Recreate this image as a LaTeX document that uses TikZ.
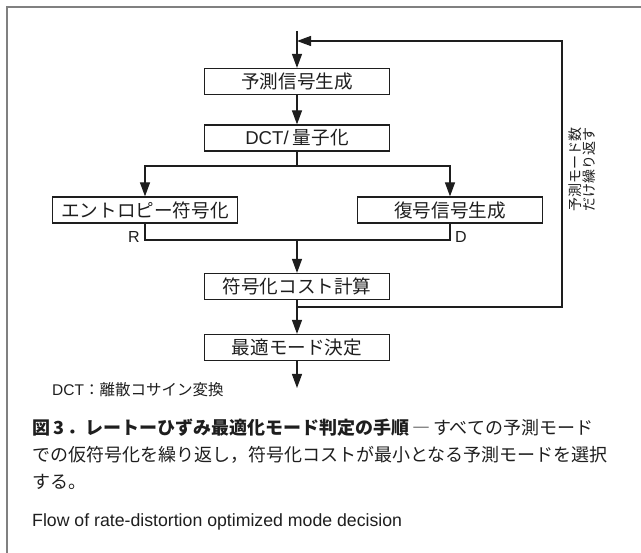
\documentclass[tikz,border=0pt]{standalone}
\usepackage{fontspec}
\setmainfont{Noto Sans CJK JP}
\newfontfamily\latin{Liberation Sans}
\usetikzlibrary{arrows.meta}
\definecolor{framegray}{RGB}{128,128,128}
\definecolor{ink}{RGB}{30,30,30}
\begin{document}
\begin{tikzpicture}[x=1pt,y=-1pt,
  box/.style={draw=ink,line width=1.2pt,minimum width=185pt,minimum height=26pt,inner sep=0pt,text=ink,font=\fontsize{18.6}{18.6}\selectfont},
  conn/.style={draw=ink,line width=1.2pt},
  arr/.style={conn,-{Triangle[length=14pt,width=10pt]}},
  lbl/.style={text=ink,inner sep=0pt,font=\fontsize{16}{16}\selectfont\latin},
  captxt/.style={anchor=west,inner sep=0pt,text=ink,font=\fontsize{18}{18}\selectfont}
]
\useasboundingbox (0,0) rectangle (641,553);
\draw[framegray,line width=2pt] (641,7) -- (7,7) -- (7,553);

\node[box] (b1) at (297,81.5) {予測信号生成};
\node[box] (b2) at (297,138) {{\latin DCT/} 量子化};
\node[box] (b3) at (145,210) {エントロピー符号化};
\node[box] (b4) at (450,210) {復号信号生成};
\node[box] (b5) at (297,286.5) {符号化コスト計算};
\node[box] (b6) at (297,347.5) {最適モード決定};

\coordinate (top) at (297,31);
\coordinate (j1) at (297,41);
\coordinate (br) at (297,166);
\coordinate (m) at (297,240);
\coordinate (j2) at (297,307);
\coordinate (fb1) at (562,307);
\coordinate (fb2) at (562,41);
\coordinate (end) at (297,388);

\draw[arr] (top) -- (b1);
\draw[arr] (b1) -- (b2);
\draw[conn] (b2) -- (br);
\draw[arr] (br) -| (b3);
\draw[arr] (br) -| (b4);
\draw[conn] (b3.south) |- (m) -| (b4.south);
\draw[arr] (m) -- (b5);
\draw[arr] (b5) -- (b6);
\draw[arr] (j2) -- (fb1) -- (fb2) -- (j1);
\draw[arr] (b6) -- (end);

\node[lbl,anchor=east] (R) at (140,237) {R};
\node[lbl,anchor=west] (D) at (455,237) {D};

\node[anchor=west,inner sep=0pt,text=ink,font=\fontsize{15.5}{16}\selectfont] (dct) at (52,390) {{\latin DCT}：離散コサイン変換};

\node[rotate=90,align=center,inner sep=0pt,text=ink,font=\fontsize{14}{14}\selectfont] (rep) at (582,170) {予測モード数\\だけ繰り返す};

\node[captxt] (cap1) at (32,428) {{\bfseries 図\,3\,．レートーひずみ最適化モード判定の手順}\,―\,すべての予測モード};
\node[captxt] (cap2) at (32,455) {での仮符号化を繰り返し，符号化コストが最小となる予測モードを選択};
\node[captxt] (cap3) at (32,482) {する。};
\node[captxt,font=\fontsize{17.7}{18}\selectfont\latin] (cap4) at (32,522) {Flow of rate-distortion optimized mode decision};
\end{tikzpicture}
\end{document}
